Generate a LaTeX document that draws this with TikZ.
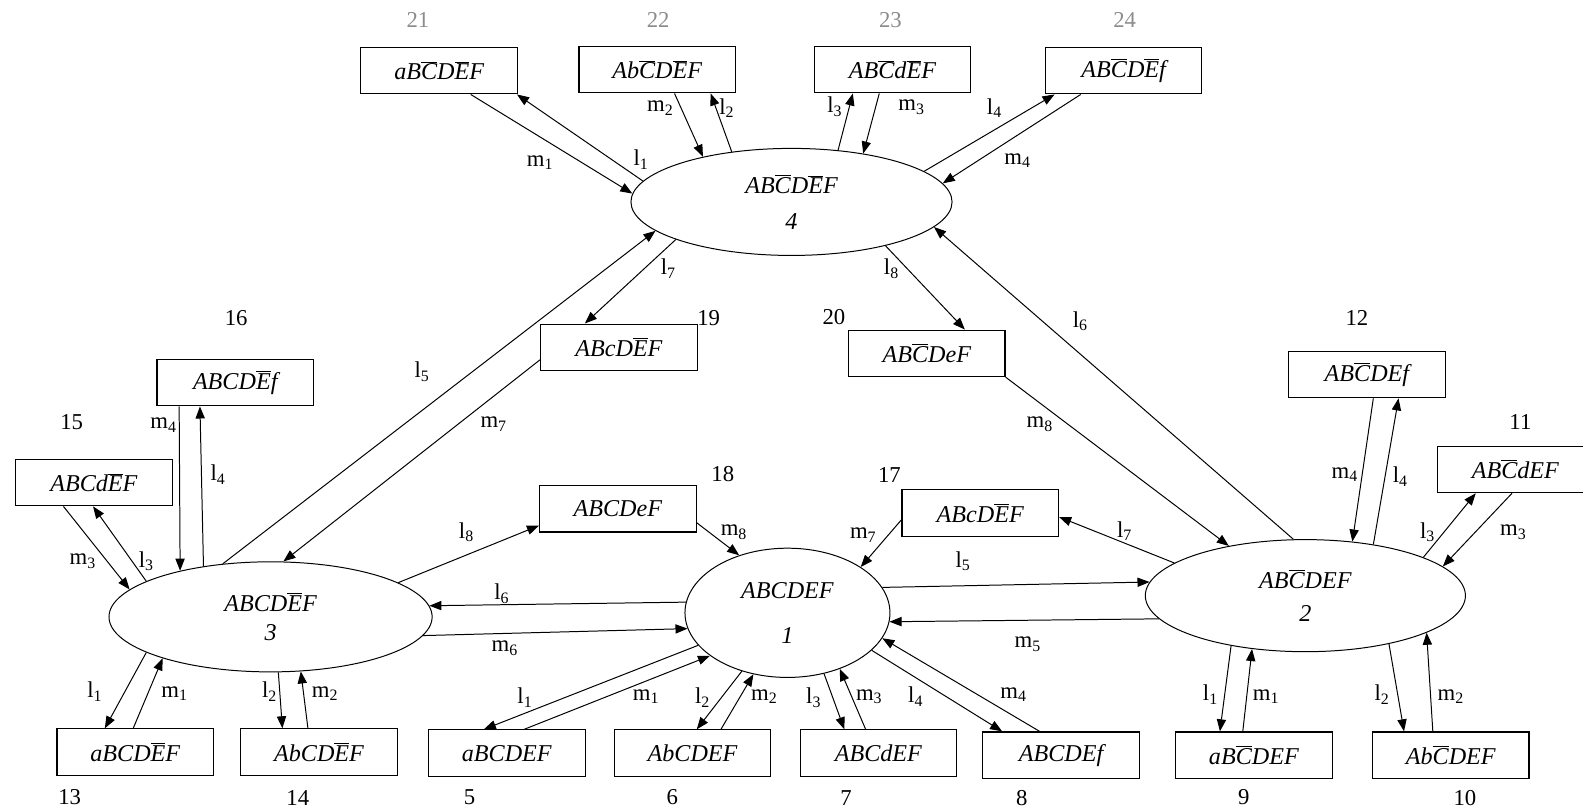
\documentclass[tikz,border=0pt]{standalone}
\usepackage{fontspec}
\setmainfont{Liberation Serif}
\usetikzlibrary{arrows.meta, shapes.geometric}
\newcommand{\nao}[1]{$\overline{\mbox{#1}}$}
\newcommand{\lsub}[1]{l\textsubscript{#1}}
\newcommand{\msub}[1]{m\textsubscript{#1}}

\begin{document}
\begin{tikzpicture}[
    x=0.025cm,
    y=-0.025cm,
    estado/.style={
        draw,
        ellipse,
        line width=0.7pt,
        inner sep=0pt,
        align=center,
        font=\fontsize{17}{20}\selectfont\itshape
    },
    caixa/.style={
        draw,
        line width=0.8pt,
        minimum width=3.875cm,
        minimum height=1.15cm,
        inner sep=0pt,
        font=\fontsize{17}{20}\selectfont\itshape
    },
    rotulo/.style={
        inner sep=0pt,
        font=\fontsize{16}{19}\selectfont
    },
    numero/.style={
        inner sep=0pt,
        font=\fontsize{16}{19}\selectfont
    },
    seta/.style={
        -{Triangle[length=8.5pt,width=6.5pt]},
        line width=0.7pt
    }
]
\useasboundingbox (0,0) rectangle (1568,804);

% estados
\node[estado, minimum width=7.95cm, minimum height=2.65cm] (s4) at (784,200)
{AB\nao{C}D\nao{E}F\\[5pt]4};
\node[estado, minimum width=8cm, minimum height=2.725cm] (s3) at (268,611)
{ABCD\nao{E}F\\[1pt]3};
\node[estado, minimum width=5.075cm, minimum height=3.2cm] (s1) at (780,607)
{ABCDEF\\[12pt]1};
\node[estado, minimum width=7.925cm, minimum height=2.775cm] (s2) at (1293,590)
{AB\nao{C}DEF\\[3pt]2};

% caixas de cima
\node[caixa] (c21) at (435,70) {aB\nao{C}D\nao{E}F};
\node[caixa] (c22) at (651,69) {Ab\nao{C}D\nao{E}F};
\node[caixa] (c23) at (884,69) {AB\nao{C}d\nao{E}F};
\node[caixa] (c24) at (1113,70) {AB\nao{C}D\nao{E}f};

% caixas do meio
\node[caixa] (c19) at (613,344) {ABcD\nao{E}F};
\node[caixa] (c20) at (918,350) {AB\nao{C}DeF};
\node[caixa] (c16) at (233,379) {ABCD\nao{E}f};
\node[caixa] (c15) at (93,478) {ABCd\nao{E}F};
\node[caixa] (c18) at (612,504) {ABCDeF};
\node[caixa] (c17) at (971,508) {ABcD\nao{E}F};
\node[caixa] (c12) at (1354,371) {AB\nao{C}DEf};
\node[caixa] (c11) at (1501,465) {AB\nao{C}dEF};

% caixas de baixo
\node[caixa] (c13) at (134,745) {aBCD\nao{E}F};
\node[caixa] (c14) at (316,745) {AbCD\nao{E}F};
\node[caixa] (c5) at (502,746) {aBCDEF};
\node[caixa] (c6) at (686,746) {AbCDEF};
\node[caixa] (c7) at (870,746) {ABCdEF};
\node[caixa] (c8) at (1051,748) {ABCDEf};
\node[caixa] (c9) at (1242,748) {aB\nao{C}DEF};
\node[caixa] (c10) at (1437,748) {Ab\nao{C}DEF};

% numeros
\node[numero, text=black!45] (n21) at (414,20) {21};
\node[numero, text=black!45] (n22) at (652,20) {22};
\node[numero, text=black!45] (n23) at (882,20) {23};
\node[numero, text=black!45] (n24) at (1114,20) {24};
\node[numero] (n19) at (702,315) {19};
\node[numero] (n20) at (826,314) {20};
\node[numero] (n16) at (234,315) {16};
\node[numero] (n12) at (1344,315) {12};
\node[numero] (n15) at (71,418) {15};
\node[numero] (n11) at (1506,418) {11};
\node[numero] (n18) at (716,470) {18};
\node[numero] (n17) at (881,470) {17};
\node[numero] (n13) at (69,790) {13};
\node[numero] (n14) at (295,790) {14};
\node[numero] (n5) at (465,790) {5};
\node[numero] (n6) at (666,790) {6};
\node[numero] (n7) at (838,790) {7};
\node[numero] (n8) at (1012,790) {8};
\node[numero] (n9) at (1232,790) {9};
\node[numero] (n10) at (1451,790) {10};

% estado 4
\draw[seta] (s4.172) -- (c21.343);
\draw[seta] (c21.323) -- (s4.177);
\draw[seta] (c22.306) -- (s4.153);
\draw[seta] (s4.140) -- (c22.336);
\draw[seta] (s4.48) -- (c23.211);
\draw[seta] (c23.241) -- (s4.34);
\draw[seta] (s4.13) -- (c24.199);
\draw[seta] (c24.209) -- (s4.7);
\draw[seta] (s4.198) -- (c19.145);
\draw[seta] (s4.335) -- (c20.32);
\draw[seta] (s3.132) -- (s4.192);
\draw[seta] (c19.189) -- (s3.77);
\draw[seta] (c20.south east) -- (s2.147);
\draw[seta] (s2.102) -- (s4.350);

\node[rotulo] (t1) at (635,158) {\lsub{1}};
\node[rotulo] (t2) at (535,161) {\msub{1}};
\node[rotulo] (t3) at (654,107) {\msub{2}};
\node[rotulo] (t4) at (720,107) {\lsub{2}};
\node[rotulo] (t5) at (827,106) {\lsub{3}};
\node[rotulo] (t6) at (903,106) {\msub{3}};
\node[rotulo] (t7) at (985,107) {\lsub{4}};
\node[rotulo] (t8) at (1008,159) {\msub{4}};
\node[rotulo] (t9) at (662,266) {\lsub{7}};
\node[rotulo] (t10) at (883,266) {\lsub{8}};
\node[rotulo] (t11) at (418,368) {\lsub{5}};
\node[rotulo] (t12) at (489,420) {\msub{7}};
\node[rotulo] (t13) at (1030,420) {\msub{8}};
\node[rotulo] (t14) at (1070,318) {\lsub{6}};

% estado 3
\draw[seta] (c16.203) -- (s3.153);
\draw[seta] (s3.143) -- (c16.214);
\draw[seta] (c15.218) -- (s3.169);
\draw[seta] (s3.164) -- (c15.268);
\draw[seta] (s3.196) -- (c13.142);
\draw[seta] (c13.95) -- (s3.201);
\draw[seta] (s3.278) -- (c14.147);
\draw[seta] (c14.115) -- (s3.299);
\draw[seta] (s3.15) -- (c18.192);
\draw[seta] (c18.350) -- (s1.130);
\draw[seta] (s1.174) -- (s3.4);
\draw[seta] (s3.353) -- (s1.189);

\node[rotulo] (t15) at (162,421) {\msub{4}};
\node[rotulo] (t16) at (216,470) {\lsub{4}};
\node[rotulo] (t17) at (82,556) {\msub{3}};
\node[rotulo] (t18) at (145,556) {\lsub{3}};
\node[rotulo] (t19) at (94,685) {\lsub{1}};
\node[rotulo] (t20) at (173,687) {\msub{1}};
\node[rotulo] (t21) at (267,685) {\lsub{2}};
\node[rotulo] (t22) at (322,687) {\msub{2}};
\node[rotulo] (t23) at (462,527) {\lsub{8}};
\node[rotulo] (t24) at (727,527) {\msub{8}};
\node[rotulo] (t25) at (497,588) {\lsub{6}};
\node[rotulo] (t26) at (500,642) {\msub{6}};

% estado 1
\draw[seta] (c17.185) -- (s1.32);
\draw[seta] (s1.15) -- (s2.175);
\draw[seta] (s2.189) -- (s1.355);
\draw[seta] (s2.166) -- (c17.357);
\draw[seta] (s1.200) -- (c5.134);
\draw[seta] (c5.54) -- (s1.209);
\draw[seta] (s1.232) -- (c6.80);
\draw[seta] (c6.40) -- (s1.241);
\draw[seta] (s1.301) -- (c7.145);
\draw[seta] (c7.118) -- (s1.313);
\draw[seta] (s1.336) -- (c8.158);
\draw[seta] (c8.132) -- (s1.345);

\node[rotulo] (t27) at (855,530) {\msub{7}};
\node[rotulo] (t28) at (954,556) {\lsub{5}};
\node[rotulo] (t29) at (1018,638) {\msub{5}};
\node[rotulo] (t30) at (1114,526) {\lsub{7}};
\node[rotulo] (t31) at (520,691) {\lsub{1}};
\node[rotulo] (t32) at (640,690) {\msub{1}};
\node[rotulo] (t33) at (696,691) {\lsub{2}};
\node[rotulo] (t34) at (757,690) {\msub{2}};
\node[rotulo] (t35) at (806,691) {\lsub{3}};
\node[rotulo] (t36) at (861,690) {\msub{3}};
\node[rotulo] (t37) at (907,690) {\lsub{4}};
\node[rotulo] (t38) at (1004,688) {\msub{4}};

% estado 2
\draw[seta] (c12.285) -- (s2.49);
\draw[seta] (s2.37) -- (c12.323);
\draw[seta] (s2.18) -- (c11.211);
\draw[seta] (c11.262) -- (s2.12);
\draw[seta] (s2.214) -- (c9.145);
\draw[seta] (c9.115) -- (s2.225);
\draw[seta] (s2.330) -- (c10.153);
\draw[seta] (c10.127) -- (s2.343);

\node[rotulo] (t39) at (1332,470) {\msub{4}};
\node[rotulo] (t40) at (1387,472) {\lsub{4}};
\node[rotulo] (t41) at (1414,527) {\lsub{3}};
\node[rotulo] (t42) at (1499,527) {\msub{3}};
\node[rotulo] (t43) at (1199,688) {\lsub{1}};
\node[rotulo] (t44) at (1254,690) {\msub{1}};
\node[rotulo] (t45) at (1369,688) {\lsub{2}};
\node[rotulo] (t46) at (1437,690) {\msub{2}};

\end{tikzpicture}
\end{document}
